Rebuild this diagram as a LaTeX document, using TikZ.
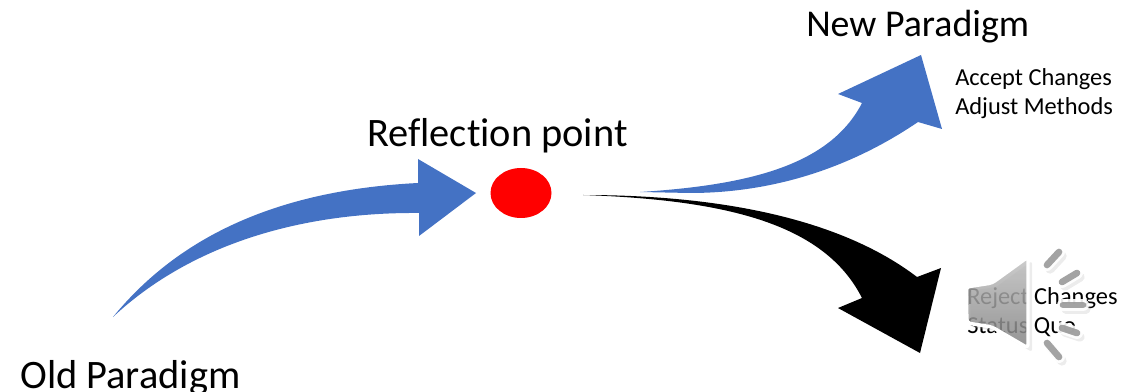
\documentclass[tikz,border=0pt]{standalone}
\usepackage{fontspec}
\setmainfont[Ligatures=NoCommon]{Carlito}
\definecolor{arrowblue}{HTML}{4472C4}
\tikzset{
  bigtext/.style={font=\fontsize{30.3}{34}\selectfont,inner sep=0pt,text=black},
  newtext/.style={font=\fontsize{28.4}{34}\selectfont,inner sep=0pt,text=black},
  smalltext/.style={font=\fontsize{18.3}{22}\selectfont,inner sep=0pt,align=left,text=black,anchor=north west},
  rayouter/.style={line cap=round,line width=9pt,white,opacity=.9},
  rayinner/.style={line cap=round,line width=5pt,draw=black!42,opacity=.85},
  rayshadow/.style={line cap=round,line width=7pt,black!30,opacity=.25},
}
\begin{document}
\begin{tikzpicture}[x=0.75pt,y=-0.75pt]
\useasboundingbox (0,0) rectangle (1143,392);
% arrows
\fill[arrowblue] (113,317) .. controls (180,235) and (280,190) .. (418,183)
  -- (418,159) -- (476,193) -- (419,236) -- (419,213)
  .. controls (300,212) and (190,245) .. (113,317) -- cycle;
\fill[arrowblue] (640,192) .. controls (750,185) and (830,165) .. (862,103)
  -- (838,94) -- (921,55) -- (942,129) -- (918,122)
  .. controls (840,175) and (760,193) .. (690,193) -- cycle;
\fill[black] (583,195) .. controls (730,195) and (845,222) .. (917,277)
  -- (941,268) -- (920,353) -- (838,308) -- (862,298)
  .. controls (825,225) and (730,200) .. (583,195) -- cycle;
\fill[red] (521,193) ellipse [x radius=30.5,y radius=25];
% texts
\node[bigtext,anchor=base west] (old) at (20,388.5) {Old Paradigm};
\node[bigtext,anchor=base west] (refl) at (367,146.5) {Reflection point};
\node[newtext,anchor=base west] (new) at (806,36.5) {New Paradigm};
\node[smalltext] (accept) at (955,68) {Accept Changes\\Adjust Methods};
\node[smalltext] (reject) at (967,287) {Reject Changes\\Status Quo};
% speaker shadow
\fill[black!30,opacity=.25,rounded corners=2pt] (970,291) -- (996,287) -- (1032,261) -- (1032,352) -- (996,331) -- (971,327) -- cycle;
\foreach \a/\b/\c/\d in {1047/265/1059/252,1062/282/1077/273,1063/305/1083/305,1062/328/1077/333,1047/343/1059/357}{
  \draw[rayshadow] (\a+3,\b+4) -- (\c+3,\d+4);
}
% speaker
\draw[white,line width=2.6pt,line join=round,rounded corners=2.5pt,top color=black!25,bottom color=black!50,fill opacity=.8]
  (966,287) -- (992,283) -- (1028,257) -- (1028,348) -- (992,327) -- (967,323) -- cycle;
\foreach \a/\b/\c/\d in {1047/265/1059/252,1062/282/1077/273,1063/305/1083/305,1062/328/1077/333,1047/343/1059/357}{
  \draw[rayouter] (\a,\b) -- (\c,\d);
  \draw[rayinner] (\a,\b) -- (\c,\d);
}
\end{tikzpicture}
\end{document}
